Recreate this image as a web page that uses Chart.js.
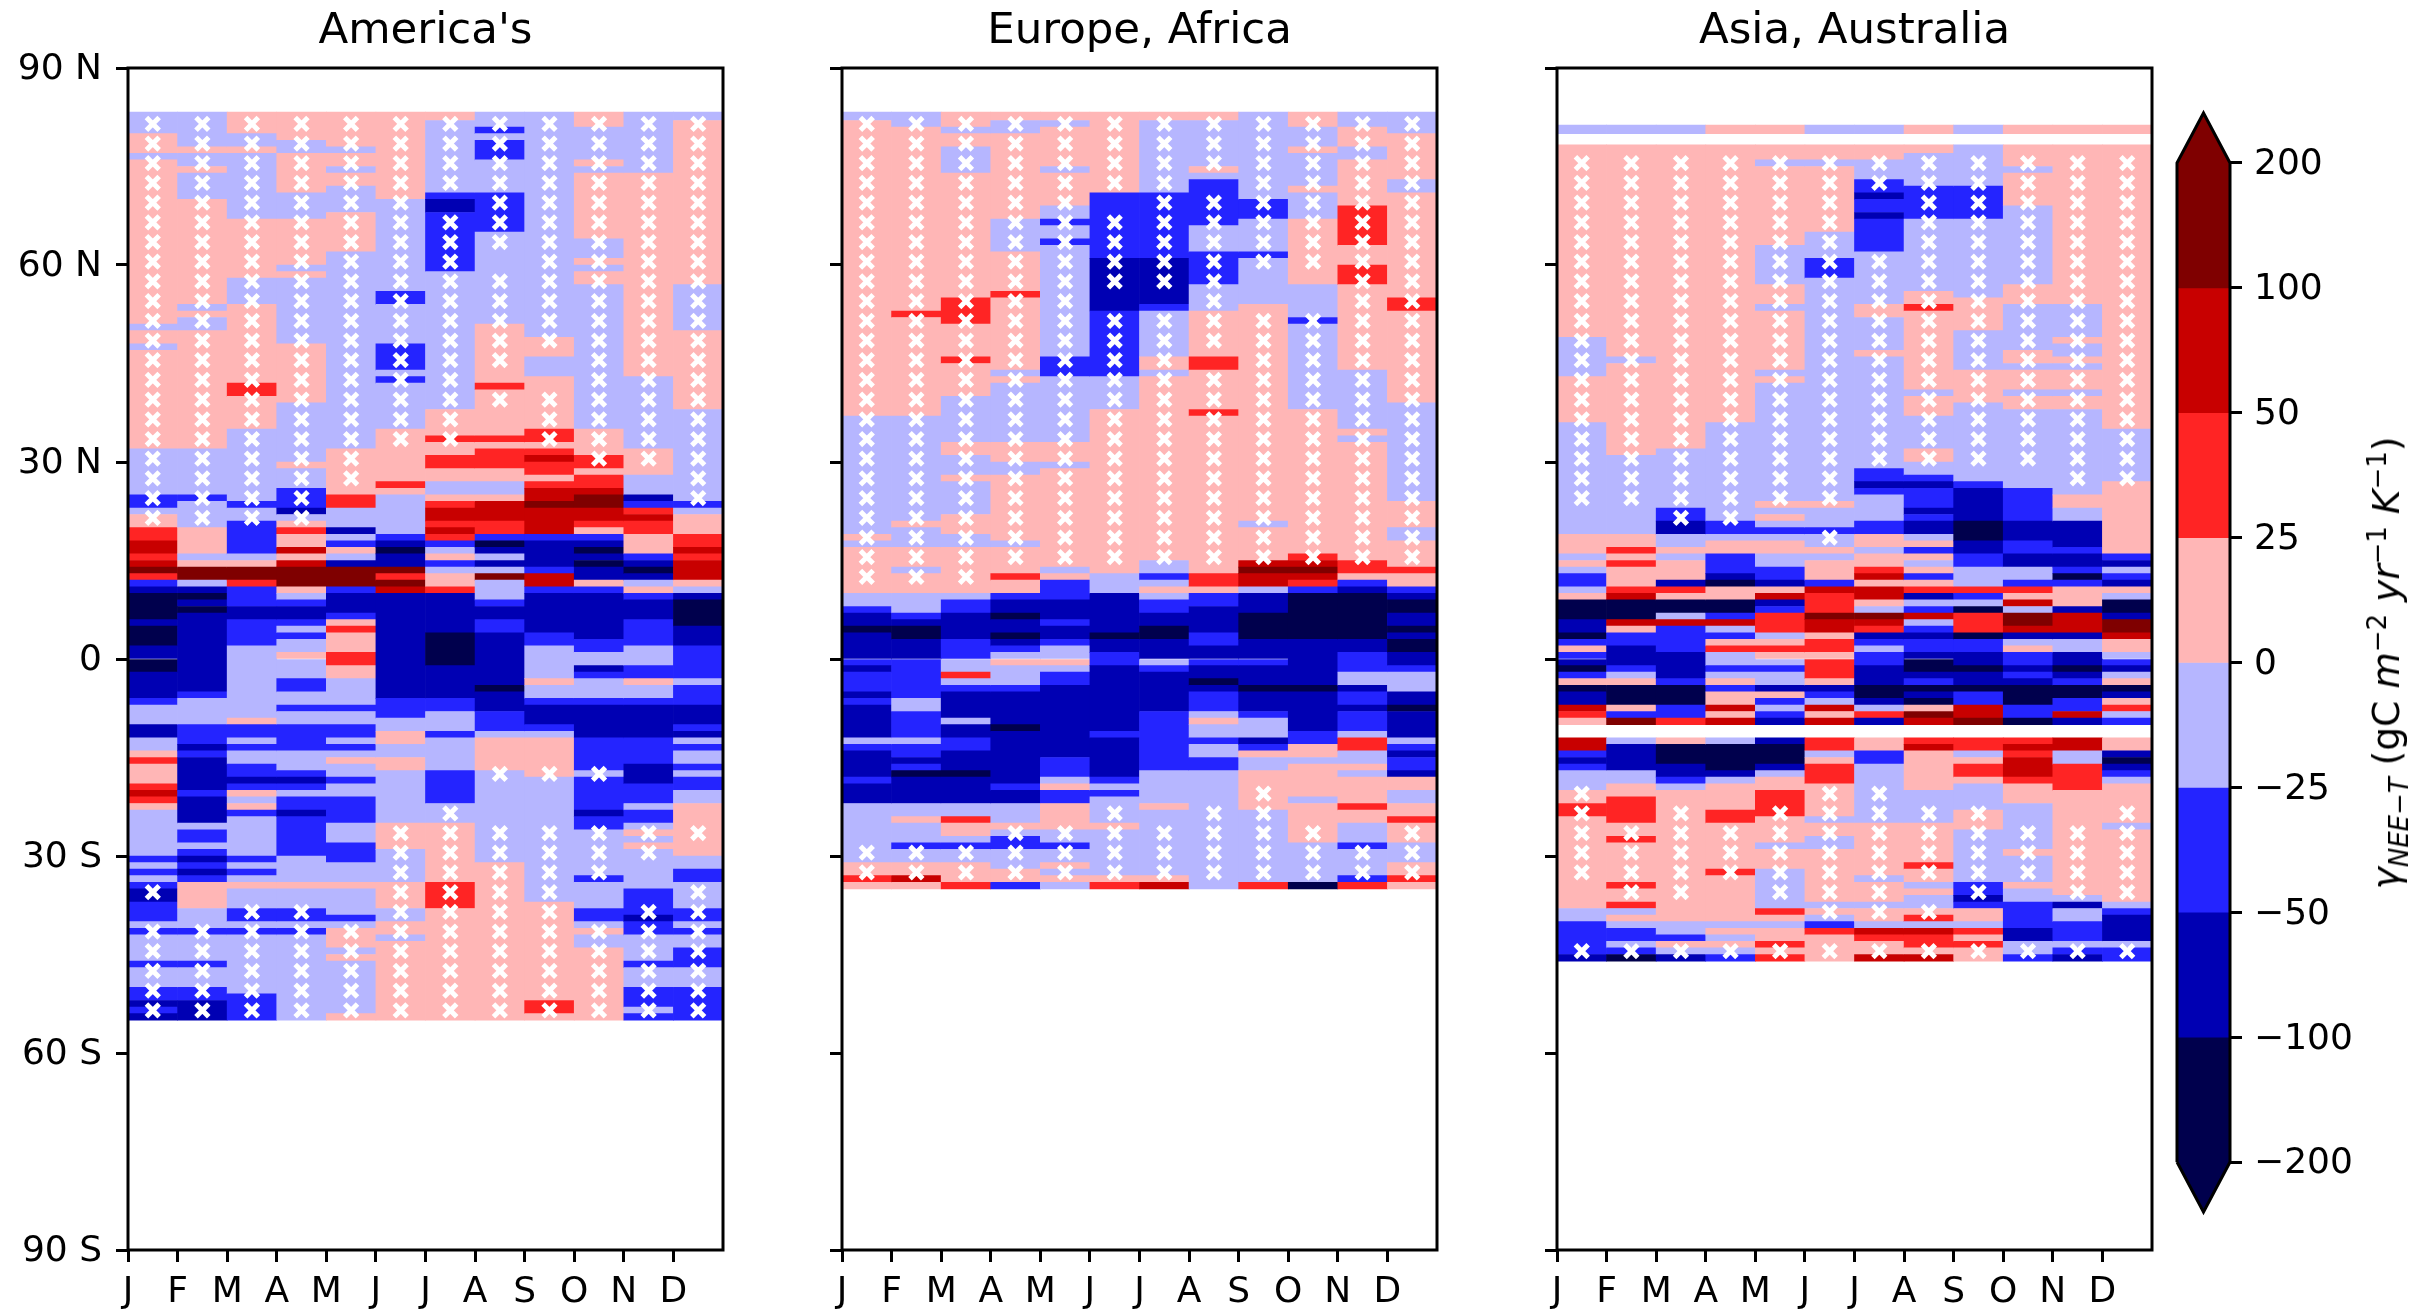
<!DOCTYPE html>
<html>
<head>
<meta charset="utf-8">
<title>NEE sensitivity to temperature</title>
<script src="https://cdn.jsdelivr.net/npm/chart.js@4"></script>
<style>
  html, body { margin: 0; padding: 0; background: #fff; }
  #page { position: relative; width: 2432px; height: 1314px; overflow: hidden; }
  canvas { position: absolute; top: 0; }
  #cbarLabel {
    position: absolute; left: 2386px; top: 663px;
    transform: translate(-50%, -50%) rotate(-90deg);
    white-space: nowrap; color: #000;
    font: 37.5px "DejaVu Sans", sans-serif;
  }
  #cbarLabel i { font-style: italic; }
  #cbarLabel sub, #cbarLabel sup { font-size: 26px; line-height: 0; }
</style>
</head>
<body>
<div id="page">
  <canvas id="america" width="849" height="1314" style="left:1px"></canvas>
  <canvas id="europe" width="849" height="1314" style="left:715px"></canvas>
  <canvas id="asia" width="849" height="1314" style="left:1430px"></canvas>
  <canvas id="cbar" width="260" height="1314" style="left:2150px"></canvas>
  <div id="cbarLabel"><i>&gamma;<sub>NEE&minus;T</sub></i> (gC <i>m</i><sup>&minus;2</sup> <i>yr</i><sup>&minus;1</sup> <i>K</i><sup>&minus;1</sup>)</div>
</div>
<script>
const months = ["J", "F", "M", "A", "M", "J", "J", "A", "S", "O", "N", "D"];
const monthTicks = [0, 1, 2, 3, 4, 5, 6, 7, 8, 9, 10, 11];
const latTicks = [90, 60, 30, 0, -30, -60, -90];
const latLabels = ["90 N", "60 N", "30 N", "0", "30 S", "60 S", "90 S"];
const levels = [-200, -100, -50, -25, 0, 25, 50, 100, 200];
const levelLabels = ["\u2212200", "\u2212100", "\u221250", "\u221225", "0", "25", "50", "100", "200"];
const levelColors = ["#00004d", "#0000b3", "#2424ff", "#b6b6ff", "#ffb6b6", "#ff2424", "#c80000", "#7f0000"];

// one value per colour band. G = no data
const P = 12, r = 37, R = 75, M = 150, B = -12, b = -37, D = -75, N = -150, G = null;

// per month: north edge, value, next edge, value, ... last south edge (degrees)
const americaCells = [
  [83.3,B,80,P,77,B,76,P,51,B,50,P,48,B,47,P,32,B,25,b,23,B,22,P,20,r,18,R,16,r,15,R,14,M,13,r,12,b,11,D,10,N,6,D,5,N,2,D,0,N,-2,D,-6,b,-7,B,-10,D,-12,B,-14,P,-15,r,-16,P,-19,r,-20,R,-21,r,-22,P,-23,B,-30,b,-31,B,-32,b,-33,B,-34,b,-35,D,-37,b,-40,B,-41,b,-42,B,-46,b,-47,B,-50,b,-52,D,-53,b,-54,D,-55],
  [83.3,B,78,P,77,B,75,P,74,B,70,P,54,B,53,P,52,B,50,P,32,B,25,b,24,B,20,P,16,B,15,P,14,M,12,B,11,D,10,N,9,D,8,N,7,D,-5,b,-6,B,-10,b,-13,D,-14,b,-15,D,-20,b,-21,D,-25,B,-26,b,-28,B,-29,b,-30,D,-31,b,-32,D,-33,b,-34,P,-38,B,-41,b,-42,B,-46,b,-47,B,-50,b,-52,D,-55],
  [83.3,P,80,B,78,P,77,B,67,P,58,B,54,P,42,r,40,P,35,B,24,b,23,B,21,b,16,B,15,P,14,M,12,r,11,b,8,D,6,b,2,B,-9,P,-10,b,-12,B,-13,b,-14,B,-16,b,-18,D,-19,b,-20,P,-21,B,-22,P,-23,b,-24,B,-30,b,-31,B,-32,b,-33,B,-34,P,-35,B,-38,b,-40,B,-41,b,-42,B,-51,b,-55],
  [83.3,P,79,B,77,P,71,B,67,P,60,B,59,P,58,B,48,P,39,B,30,P,29,B,26,b,23,D,22,B,21,P,20,r,19,P,17,R,16,P,15,R,14,M,11,P,10,B,9,b,8,D,6,b,5,B,4,b,3,B,1,P,0,B,-3,b,-5,B,-7,b,-8,B,-10,b,-14,B,-17,b,-18,D,-19,b,-20,B,-21,b,-23,D,-24,b,-30,B,-34,P,-35,B,-38,b,-40,B,-41,b,-42,B,-55],
  [83.3,P,78,B,77,P,75,B,74,P,72,B,68,P,62,B,32,P,25,r,23,B,20,D,19,B,18,b,17,P,16,B,15,D,14,M,11,b,10,D,7,b,6,P,5,r,4,P,1,r,-1,P,-3,B,-7,b,-8,B,-10,b,-12,B,-13,b,-14,B,-15,P,-16,B,-18,b,-19,B,-21,b,-25,B,-28,b,-31,B,-34,P,-35,B,-39,b,-40,B,-41,P,-44,B,-45,P,-46,B,-54,P,-55],
  [83.3,P,70,B,56,b,54,B,48,b,44,B,43,b,42,B,35,P,27,r,26,P,25,B,19,b,18,D,17,N,16,D,14,M,13,r,12,M,11,R,10,D,-6,b,-9,B,-11,P,-13,B,-15,P,-17,B,-25,P,-29,B,-34,P,-38,B,-40,P,-42,B,-43,P,-55],
  [83.3,P,82,B,71,b,70,D,68,b,59,B,38,P,34,r,33,P,31,r,29,P,27,B,25,P,24,r,23,R,21,r,20,R,19,r,18,b,17,B,16,P,15,b,14,B,13,P,11,r,10,D,4,N,-1,D,-6,b,-8,B,-11,b,-12,B,-17,b,-22,B,-25,P,-34,r,-38,P,-55],
  [83.3,B,81,b,80,B,79,b,76,B,71,b,65,B,51,P,42,r,41,P,34,r,33,P,32,r,29,P,27,B,25,P,24,R,21,r,19,b,18,N,17,D,16,B,15,D,14,B,13,M,12,B,9,b,8,D,6,b,4,D,-4,N,-5,D,-8,b,-11,B,-12,P,-17,B,-31,P,-55],
  [83.3,B,49,P,46,B,43,P,35,r,33,P,32,r,31,R,30,r,28,P,27,r,26,R,24,M,23,R,19,b,18,D,14,b,13,R,11,b,10,D,4,b,2,B,-3,P,-4,B,-6,b,-7,D,-10,b,-11,B,-12,P,-18,B,-37,P,-52,r,-54,P,-55],
  [83.3,P,81,B,76,P,75,B,74,P,64,B,61,P,60,B,59,P,57,B,35,P,31,r,29,P,28,r,26,R,25,M,23,R,21,r,20,P,19,b,18,D,17,N,16,D,15,N,14,D,12,P,11,b,10,D,3,b,1,B,-1,D,-2,b,-3,B,-6,b,-7,D,-12,b,-17,B,-18,b,-23,D,-24,b,-26,B,-33,b,-34,B,-38,b,-40,B,-41,P,-42,B,-44,P,-55],
  [83.3,B,74,P,43,B,32,P,28,B,25,D,24,b,23,r,22,R,21,r,19,P,16,b,15,D,14,N,13,D,12,B,11,P,10,b,9,D,6,b,2,B,-1,b,-3,P,-4,B,-6,b,-7,D,-12,b,-16,D,-19,b,-22,B,-23,b,-25,B,-26,P,-27,B,-28,P,-29,B,-35,b,-39,D,-40,b,-42,B,-46,b,-47,B,-50,b,-53,B,-54,b,-55],
  [83.3,B,82,P,57,B,50,P,38,B,24,b,23,B,22,P,19,r,17,R,16,r,15,R,12,P,11,B,10,D,9,N,5,D,2,b,-3,B,-4,b,-7,D,-10,b,-11,D,-12,B,-13,b,-14,B,-16,b,-17,B,-18,b,-20,B,-22,P,-30,B,-32,b,-34,B,-38,b,-40,B,-41,b,-42,B,-44,b,-47,B,-50,b,-55]
];

const europeCells = [
  [83.3,B,82,P,37,B,19,P,18,B,17,P,10,B,8,b,7,D,5,N,4,D,0,b,-1,D,-2,b,-5,D,-6,b,-7,D,-12,B,-13,b,-14,D,-18,b,-19,D,-22,B,-31,P,-33,r,-34,P,-35],
  [83.3,B,81,P,53,r,52,P,37,B,21,P,20,B,17,P,14,B,13,P,10,B,7,b,6,D,5,N,3,D,0,b,-6,B,-8,b,-12,B,-13,b,-15,D,-16,b,-17,N,-18,D,-22,B,-24,P,-25,B,-28,b,-29,B,-31,P,-33,R,-34,P,-35],
  [83.3,P,81,B,80,P,78,B,74,P,55,r,51,P,46,r,45,P,40,B,33,P,31,B,28,P,27,B,22,P,19,B,17,P,10,B,9,b,7,D,3,b,0,B,-2,r,-3,B,-4,b,-5,D,-9,B,-10,D,-12,b,-14,D,-17,N,-18,D,-22,B,-24,r,-25,P,-27,B,-28,b,-29,B,-31,P,-34,r,-35],
  [83.3,P,82,B,80,P,67,B,62,P,56,r,55,P,44,B,43,P,42,B,33,P,30,B,28,P,18,B,17,P,13,r,12,P,10,b,9,D,7,N,6,D,4,N,3,D,2,b,1,B,0,P,-1,B,-4,b,-5,D,-10,N,-11,D,-19,b,-20,D,-22,B,-25,P,-26,B,-27,b,-29,B,-32,P,-34,b,-35],
  [83.3,P,82,B,81,P,75,B,74,P,69,B,67,b,66,B,64,b,63,B,46,b,43,B,33,P,30,B,29,P,14,B,13,P,12,b,9,D,6,b,5,D,3,b,2,B,0,P,-1,B,-2,b,-4,D,-15,b,-18,B,-19,P,-20,b,-22,P,-26,B,-28,b,-29,B,-31,P,-32,B,-33,P,-34,B,-35],
  [83.3,P,71,b,61,D,53,b,43,B,38,P,13,B,10,D,4,N,3,D,1,b,-1,D,-11,b,-12,D,-18,b,-19,B,-20,b,-21,B,-25,P,-26,B,-33,P,-34,r,-35],
  [83.3,P,82,B,71,b,61,D,54,b,53,B,46,P,44,B,43,P,15,B,13,b,12,B,11,P,10,B,9,b,7,D,5,N,3,D,0,B,-1,b,-2,D,-8,b,-17,B,-22,P,-23,B,-33,P,-34,R,-35],
  [83.3,P,82,B,75,P,74,B,73,b,66,B,62,b,57,B,53,P,46,r,44,P,38,r,37,P,13,r,11,P,10,b,8,D,4,b,2,D,0,b,-1,D,-3,N,-4,D,-5,b,-8,B,-9,P,-10,B,-12,b,-13,B,-15,b,-17,B,-35],
  [83.3,B,70,b,67,B,62,b,61,B,54,P,21,B,20,P,15,R,14,M,13,R,11,B,10,D,7,N,3,D,0,b,-1,D,-4,N,-5,D,-8,b,-9,B,-12,D,-13,b,-14,P,-15,B,-17,P,-23,B,-34,r,-35],
  [83.3,P,81,B,78,P,77,B,72,P,71,B,67,P,57,B,52,b,51,B,38,P,16,r,15,R,14,M,13,R,12,r,11,b,10,N,3,D,-4,N,-5,D,-11,b,-13,P,-15,B,-16,P,-21,B,-22,P,-28,B,-34,N,-35],
  [83.3,B,81,P,78,B,76,P,69,r,63,P,60,r,57,P,44,B,35,P,34,B,33,P,15,r,13,P,12,b,11,D,10,N,3,D,1,b,-2,B,-4,D,-5,b,-7,D,-8,b,-11,B,-12,r,-14,B,-16,P,-17,B,-18,P,-22,r,-23,P,-25,B,-28,b,-29,B,-33,b,-34,r,-35],
  [83.3,B,80,P,73,B,71,P,55,r,53,P,39,B,24,P,20,B,18,P,14,r,13,P,11,b,10,D,9,N,7,D,5,N,4,D,3,N,1,D,-1,b,-2,B,-5,D,-7,N,-8,D,-12,B,-13,b,-14,D,-15,b,-17,D,-18,P,-20,B,-22,P,-24,r,-25,P,-28,B,-31,P,-33,r,-34,P,-35]
];

const asiaCells = [
  [81.3,B,80,G,78.3,P,49,B,43,P,36,B,19,P,16,B,15,P,14,B,13,b,11,B,10,P,9,N,6,D,4,N,3,b,2,P,1,b,0,D,-1,N,-2,b,-3,P,-4,N,-5,D,-7,R,-8,r,-9,P,-10,G,-12,R,-14,b,-15,D,-16,b,-17,B,-20,P,-22,r,-24,P,-38,B,-40,b,-45,D,-46],
  [81.3,B,80,G,78.3,P,46,B,45,P,31,B,19,P,17,r,16,P,15,r,14,P,11,r,10,R,9,N,6,R,5,P,4,b,2,D,-1,b,-2,B,-3,P,-4,N,-7,P,-8,b,-9,M,-10,G,-12,B,-13,D,-17,B,-19,P,-21,r,-25,P,-27,r,-28,P,-34,r,-35,P,-37,r,-38,B,-39,P,-40,B,-41,b,-43,B,-44,b,-45,N,-46],
  [81.3,B,80,G,78.3,P,32,B,23,b,21,D,19,B,17,P,16,B,15,P,12,D,11,r,10,P,9,N,7,B,6,R,5,b,1,D,-3,b,-4,N,-7,b,-9,r,-10,G,-12,P,-13,N,-16,D,-18,b,-19,B,-20,P,-40,B,-42,b,-43,P,-44,B,-45,D,-46],
  [81.3,P,80,G,78.3,P,36,B,21,b,19,B,18,P,16,b,13,D,12,N,11,P,9,N,7,b,6,R,5,B,4,b,3,P,2,r,1,B,-1,b,-2,B,-3,P,-4,b,-5,P,-7,R,-8,P,-9,R,-10,G,-12,B,-13,N,-17,D,-18,B,-19,P,-23,r,-25,P,-32,r,-33,P,-40,B,-41,P,-42,B,-43,P,-44,B,-45,b,-46],
  [81.3,P,80,G,78.3,P,76,B,75,P,63,B,57,P,54,B,53,P,44,B,43,P,42,B,24,P,23,B,22,P,21,B,20,b,19,B,18,P,16,B,14,b,12,D,11,P,10,R,9,D,8,b,7,r,4,B,3,P,2,r,1,P,0,B,-1,b,-2,B,-4,D,-5,P,-6,b,-7,B,-8,b,-9,D,-10,G,-12,D,-13,N,-16,D,-17,B,-18,P,-20,r,-24,P,-28,B,-29,P,-32,B,-38,r,-39,P,-40,B,-41,P,-43,r,-44,P,-45,r,-46],
  [81.3,B,80,G,78.3,P,76,B,75,P,65,B,61,b,58,B,24,P,23,B,20,b,19,B,17,P,16,B,15,P,12,b,11,R,10,r,7,M,6,R,4,P,3,r,1,P,0,r,-3,P,-4,D,-5,b,-6,B,-7,R,-8,P,-9,R,-10,G,-12,r,-14,B,-15,P,-16,r,-19,P,-24,B,-25,P,-27,B,-29,P,-37,B,-38,P,-39,B,-40,b,-41,r,-42,P,-46],
  [81.3,B,80,G,78.3,P,76,B,73,b,71,D,70,b,68,D,67,b,62,B,54,P,52,B,47,P,46,B,29,b,27,D,26,b,25,B,21,b,19,P,17,B,16,P,14,r,13,R,12,P,11,R,9,P,8,B,7,M,6,R,5,r,4,D,3,b,2,B,1,b,-1,D,-4,N,-6,D,-7,B,-8,r,-9,D,-10,G,-12,P,-14,b,-16,B,-25,P,-33,B,-34,P,-37,B,-38,P,-40,B,-41,R,-42,r,-43,P,-45,R,-46],
  [81.3,P,80,G,78.3,P,77,B,72,b,67,B,56,P,54,r,53,P,41,B,40,P,37,B,32,P,30,B,28,b,27,D,26,b,23,D,22,b,21,D,19,B,18,P,17,b,16,P,15,B,14,P,13,b,12,P,11,r,10,D,9,B,8,b,7,R,6,B,5,b,4,D,3,b,1,D,0,N,-2,D,-3,b,-4,N,-5,D,-6,N,-7,P,-8,M,-9,R,-10,G,-12,r,-13,R,-14,P,-20,B,-25,P,-31,r,-32,P,-34,B,-35,P,-36,B,-38,P,-39,r,-40,B,-41,R,-42,r,-44,P,-45,R,-46],
  [81.3,B,80,G,78.3,B,72,b,67,B,55,P,50,B,44,P,39,B,27,b,26,D,21,N,18,D,16,b,14,B,11,r,10,b,9,B,8,N,7,r,4,N,3,b,1,D,-1,N,-2,D,-4,N,-5,b,-7,R,-9,M,-10,G,-12,r,-14,B,-15,P,-16,r,-18,P,-19,B,-23,P,-26,B,-34,b,-36,D,-37,b,-38,P,-40,B,-41,r,-42,P,-43,r,-44,P,-46],
  [81.3,P,80,G,78.3,P,75,B,74,P,69,B,57,P,54,B,47,P,45,B,44,P,41,B,40,P,38,B,26,b,21,D,18,b,16,D,14,B,12,b,11,r,10,P,9,R,8,B,7,M,5,R,4,D,3,B,2,P,1,b,-1,D,-2,b,-3,D,-4,N,-7,b,-9,N,-10,G,-12,r,-13,R,-14,r,-15,R,-18,r,-19,P,-22,B,-29,P,-30,B,-34,P,-35,B,-37,b,-41,D,-43,B,-45,b,-46],
  [81.3,P,80,G,78.3,P,54,B,49,P,48,B,46,P,45,B,44,P,41,B,40,P,38,B,25,P,23,B,21,D,17,b,16,D,14,b,13,N,12,b,11,P,8,D,7,R,4,D,3,B,1,D,-1,N,-2,D,-3,b,-4,N,-6,b,-8,R,-9,D,-10,G,-12,R,-14,B,-16,r,-20,P,-36,B,-37,D,-38,B,-40,b,-43,B,-44,b,-45,D,-46],
  [81.3,P,80,G,78.3,P,35,B,27,P,16,b,15,D,14,B,13,b,12,D,11,P,10,B,9,N,7,D,6,M,4,R,3,P,1,B,0,b,-1,D,-2,B,-3,P,-4,N,-5,D,-6,P,-7,r,-8,B,-9,b,-10,G,-12,P,-14,D,-15,N,-16,D,-17,b,-18,B,-19,P,-25,B,-26,P,-37,B,-38,b,-39,D,-43,B,-44,b,-46]
];

// latitudes that carry a significance cross
const crossLats = [81.5,78.5,75.5,72.5,69.5,66.5,63.5,60.5,57.5,54.5,51.5,48.5,45.5,42.5,39.5,36.5,33.5,30.5,27.5,24.5,21.5,18.5,15.5,12.5,9.5,6.5,3.5,0.5,-2.5,-5.5,-8.5,-11.5,-14.5,-17.5,-20.5,-23.5,-26.5,-29.5,-32.5,-35.5,-38.5,-41.5,-44.5,-47.5,-50.5,-53.5];

// per month: north/south pairs of the stretches where the crosses are drawn
const americaCross = [
  [81.5,21.5,-35.5,-35.5,-41.5,-53.5],
  [81.5,21.5,-41.5,-53.5],
  [81.5,21.5,-38.5,-53.5],
  [81.5,21.5,-38.5,-53.5],
  [81.5,27.5,-41.5,-53.5],
  [81.5,33.5,-26.5,-53.5],
  [81.5,72.5,66.5,33.5,-23.5,-53.5],
  [81.5,63.5,57.5,45.5,39.5,39.5,-17.5,-17.5,-26.5,-53.5],
  [81.5,48.5,39.5,33.5,-17.5,-17.5,-26.5,-53.5],
  [81.5,30.5,-17.5,-17.5,-26.5,-32.5,-41.5,-53.5],
  [81.5,30.5,-26.5,-29.5,-38.5,-53.5],
  [81.5,24.5,-26.5,-26.5,-35.5,-53.5]
];
const europeCross = [
  [81.5,12.5,-29.5,-32.5],
  [81.5,12.5,-29.5,-32.5],
  [81.5,12.5,-29.5,-32.5],
  [81.5,15.5,-26.5,-32.5],
  [81.5,15.5,-26.5,-32.5],
  [81.5,72.5,66.5,57.5,51.5,15.5,-23.5,-32.5],
  [81.5,57.5,51.5,15.5,-26.5,-32.5],
  [81.5,75.5,69.5,48.5,42.5,15.5,-23.5,-32.5],
  [81.5,60.5,51.5,15.5,-20.5,-32.5],
  [81.5,60.5,51.5,15.5,-26.5,-32.5],
  [81.5,15.5,-29.5,-32.5],
  [81.5,15.5,-26.5,-32.5]
];
const asiaCross = [
  [75.5,24.5,-20.5,-32.5,-44.5,-44.5],
  [75.5,24.5,-26.5,-35.5,-44.5,-44.5],
  [75.5,21.5,-23.5,-35.5,-44.5,-44.5],
  [75.5,21.5,-26.5,-32.5,-44.5,-44.5],
  [75.5,24.5,-23.5,-35.5,-44.5,-44.5],
  [75.5,24.5,18.5,18.5,-20.5,-38.5,-44.5,-44.5],
  [75.5,72.5,60.5,30.5,-20.5,-38.5,-44.5,-44.5],
  [75.5,30.5,-23.5,-32.5,-38.5,-38.5,-44.5,-44.5],
  [75.5,30.5,-23.5,-35.5,-44.5,-44.5],
  [75.5,30.5,-26.5,-32.5,-44.5,-44.5],
  [75.5,27.5,-26.5,-35.5,-44.5,-44.5],
  [75.5,27.5,-23.5,-35.5,-44.5,-44.5]
];

const FONT = "'DejaVu Sans'";
Chart.defaults.font.family = FONT;
Chart.defaults.color = "#000";
Chart.defaults.animation = false;

function colorOf(v) {
  for (let i = 0; i < levelColors.length; i++) {
    if (v < levels[i + 1]) return levelColors[i];
  }
  return levelColors[levelColors.length - 1];
}

function cellsOf(panel) {
  const out = [];
  panel.forEach((runs, m) => {
    for (let i = 0; i + 2 < runs.length; i += 2) {
      if (runs[i + 1] === G) continue;
      out.push({ x: m + 0.5, y: [runs[i], runs[i + 2]], v: runs[i + 1] });
    }
  });
  return out;
}

function crossesOf(panel) {
  const out = [];
  panel.forEach((stretches, m) => {
    crossLats.forEach((lat) => {
      for (let i = 0; i < stretches.length; i += 2) {
        if (lat <= stretches[i] && lat >= stretches[i + 1]) out.push({ x: m + 0.5, y: lat });
      }
    });
  });
  return out;
}

const frame = {
  id: "frame",
  afterDatasetsDraw(chart) {
    const { ctx, chartArea: a } = chart;
    ctx.save();
    ctx.strokeStyle = "#000";
    ctx.lineWidth = 3;
    ctx.strokeRect(a.left, a.top, a.right - a.left, a.bottom - a.top);
    ctx.restore();
  },
};

// DejaVu sits high on a middle baseline, nudge the y labels onto their ticks
const labelNudge = {
  id: "labelNudge",
  beforeDraw(chart) {
    chart.scales.y.getLabelItems().forEach((item) => { item.textOffset += 2; });
  },
};

const tickGrid = { drawOnChartArea: false, drawTicks: true, tickLength: 12, tickWidth: 3, tickColor: "#000", color: "#000" };

function makePanel(id, title, cellData, crossData, showLats) {
  const cells = cellsOf(cellData);
  return new Chart(document.getElementById(id), {
    type: "bar",
    plugins: [frame, labelNudge],
    data: {
      datasets: [
        {
          type: "scatter",
          data: crossesOf(crossData),
          pointStyle: "crossRot",
          pointRadius: 9,
          borderColor: "#fff",
          backgroundColor: "#fff",
          borderWidth: 5,
          order: 0,
        },
        {
          data: cells,
          backgroundColor: cells.map((c) => colorOf(c.v)),
          borderWidth: 0,
          barPercentage: 1,
          categoryPercentage: 1,
          order: 1,
        },
      ],
    },
    options: {
      responsive: false,
      plugins: {
        legend: { display: false },
        tooltip: { enabled: false },
        title: {
          display: true,
          text: title,
          color: "#000",
          font: { size: 43.5, weight: "normal", lineHeight: 1.2 },
          padding: { top: 6, bottom: 9.8 },
        },
      },
      scales: {
        x: {
          type: "linear",
          offset: false,
          min: 0,
          max: 12,
          afterFit: (s) => { s.height = 64; },
          afterBuildTicks: (s) => { s.ticks = monthTicks.map((v) => ({ value: v })); },
          grid: { ...tickGrid, offset: false },
          border: { display: false },
          ticks: {
            autoSkip: false,
            maxRotation: 0,
            padding: 9,
            font: { size: 36 },
            color: "#000",
            callback: (v) => months[v],
          },
        },
        y: {
          type: "linear",
          min: -90,
          max: 90,
          afterFit: (s) => { s.width = 127; },
          afterBuildTicks: (s) => { s.ticks = latTicks.map((v) => ({ value: v })).reverse(); },
          grid: tickGrid,
          border: { display: false },
          ticks: {
            autoSkip: false,
            padding: 14,
            font: { size: 36 },
            color: "#000",
            callback: (v) => (showLats ? latLabels[latTicks.indexOf(v)] : ""),
          },
        },
        // empty right side, same width as the left axis, keeps the title centred on the plot
        rightSpace: {
          type: "linear",
          position: "right",
          afterFit: (s) => { s.width = 127; },
          grid: { display: false },
          border: { display: false },
          ticks: { display: false },
        },
      },
    },
  });
}

makePanel("america", "America's", americaCells, americaCross, true);
makePanel("europe", "Europe, Africa", europeCells, europeCross, false);
makePanel("asia", "Asia, Australia", asiaCells, asiaCross, false);

// colour bar: one band per level on an evenly spaced axis, pointed ends
const bandCount = levelColors.length;
const tip = 0.4;
new Chart(document.getElementById("cbar"), {
  type: "bar",
  plugins: [labelNudge],
  data: {
    datasets: [
      {
        type: "line",
        data: [{ x: 0, y: 0 }, { x: 0, y: bandCount }, { x: 0.5, y: bandCount + tip }, { x: 1, y: bandCount }, { x: 1, y: 0 }, { x: 0.5, y: -tip }, { x: 0, y: 0 }],
        borderColor: "#000",
        borderWidth: 3,
        pointRadius: 0,
        tension: 0,
        clip: false,
        fill: false,
        order: 0,
      },
      {
        type: "line",
        data: [{ x: 0, y: bandCount }, { x: 0.5, y: bandCount + tip }, { x: 1, y: bandCount }],
        borderWidth: 0,
        pointRadius: 0,
        tension: 0,
        clip: false,
        backgroundColor: levelColors[bandCount - 1],
        fill: { value: bandCount },
        order: 1,
      },
      {
        type: "line",
        data: [{ x: 0, y: 0 }, { x: 0.5, y: -tip }, { x: 1, y: 0 }],
        borderWidth: 0,
        pointRadius: 0,
        tension: 0,
        clip: false,
        backgroundColor: levelColors[0],
        fill: { value: 0 },
        order: 1,
      },
      {
        data: levelColors.map((c, i) => ({ x: 0.5, y: [i, i + 1] })),
        backgroundColor: levelColors,
        borderWidth: 0,
        barPercentage: 1,
        categoryPercentage: 1,
        order: 2,
      },
    ],
  },
  options: {
    responsive: false,
    layout: { padding: { left: 27, top: 113, bottom: 102 } },
    plugins: { legend: { display: false }, tooltip: { enabled: false } },
    scales: {
      x: { type: "linear", display: false, offset: false, min: 0, max: 1 },
      y: {
        type: "linear",
        position: "right",
        min: -tip,
        max: bandCount + tip,
        afterFit: (s) => { s.width = 180; },
        afterBuildTicks: (s) => { s.ticks = levelLabels.map((_, i) => ({ value: i })); },
        grid: tickGrid,
        border: { display: false },
        ticks: {
          autoSkip: false,
          padding: 12,
          font: { size: 36 },
          color: "#000",
          callback: (v) => levelLabels[v],
        },
      },
    },
  },
});
</script>
</body>
</html>
